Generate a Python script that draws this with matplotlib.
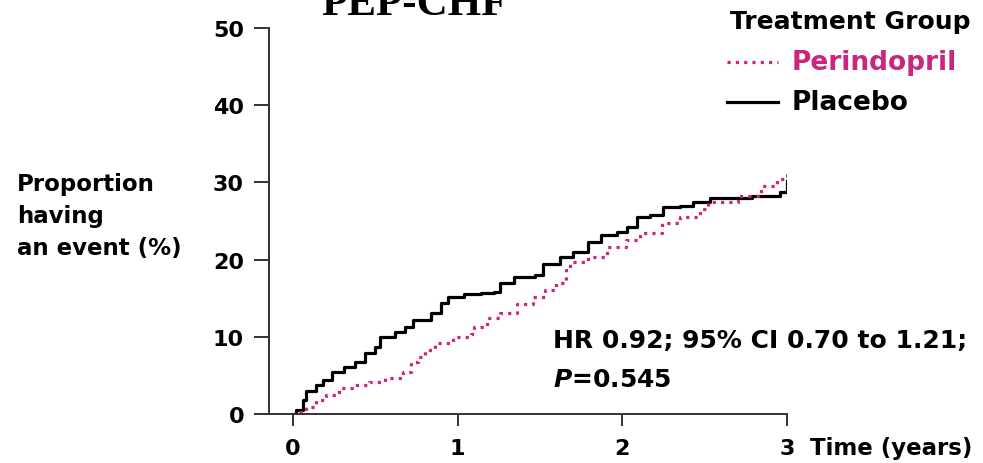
import matplotlib.pyplot as plt

plt.rcParams['font.family'] = ['DejaVu Sans']
plt.rcParams['font.weight'] = 'bold'
plt.rcParams['mathtext.fontset'] = 'custom'
plt.rcParams['mathtext.it'] = 'DejaVu Sans:italic:bold'
plt.rcParams['mathtext.rm'] = 'DejaVu Sans:bold'

# Kaplan-Meier style cumulative event curves
placebo_t = [0, 0.02, 0.06, 0.08, 0.14, 0.18, 0.24, 0.31, 0.38, 0.44, 0.50,
             0.53, 0.62, 0.68, 0.73, 0.84, 0.90, 0.94, 1.04, 1.14, 1.22, 1.26,
             1.34, 1.47, 1.52, 1.62, 1.70, 1.79, 1.87, 1.97, 2.03, 2.09, 2.17,
             2.25, 2.35, 2.43, 2.53, 2.67, 2.79, 2.96, 3.0]
placebo_v = [0, 0.5, 1.8, 3.0, 3.8, 4.4, 5.5, 6.1, 6.8, 7.9, 8.7,
             10.0, 10.6, 11.3, 12.2, 13.1, 14.4, 15.1, 15.5, 15.7, 15.8, 17.0,
             17.7, 18.0, 19.4, 20.3, 21.0, 22.3, 23.2, 23.6, 24.2, 25.5, 25.8,
             26.8, 26.9, 27.5, 28.0, 28.0, 28.2, 28.8, 30.2]

perin_t = [0, 0.02, 0.08, 0.14, 0.20, 0.28, 0.36, 0.46, 0.56, 0.67, 0.72,
           0.76, 0.80, 0.86, 0.97, 1.08, 1.10, 1.18, 1.26, 1.36, 1.46, 1.53,
           1.60, 1.66, 1.68, 1.79, 1.91, 2.02, 2.11, 2.24, 2.35, 2.47, 2.52,
           2.64, 2.70, 2.84, 2.94, 3.0]
perin_v = [0, 0.3, 0.9, 1.8, 2.5, 3.4, 3.8, 4.2, 4.6, 5.5, 6.8,
           7.4, 8.3, 9.2, 10.0, 10.3, 11.3, 12.5, 13.1, 14.2, 15.2, 16.1,
           17.0, 18.7, 19.7, 20.4, 21.6, 22.6, 23.5, 24.8, 25.5, 26.5, 27.5,
           27.5, 28.2, 29.5, 30.4, 31.4]

x_ticks = [0, 1, 2, 3]
y_ticks = [0, 10, 20, 30, 40, 50]

magenta = '#c8267f'

fig = plt.figure(figsize=(9.83, 4.64), dpi=100)
ax = fig.add_axes([269 / 983, 1 - 415 / 464, (787 - 269) / 983, (415 - 29) / 464])

ax.step(placebo_t, placebo_v, where='post', color='black', lw=2.3)
ax.step(perin_t, perin_v, where='post', color=magenta, lw=2.3,
        linestyle=(0, (1, 1.6)))

ax.set_xlim(-0.145, 3.0)
ax.set_ylim(0, 50)
ax.set_xticks(x_ticks)
ax.set_yticks(y_ticks)
for s in ['top', 'right']:
    ax.spines[s].set_visible(False)
for s in ['left', 'bottom']:
    ax.spines[s].set_linewidth(1.4)
    ax.spines[s].set_color('#333333')
ax.tick_params(direction='out', width=1.4, color='#333333', labelsize=16)
ax.tick_params(axis='y', length=11, pad=7)
ax.tick_params(axis='x', length=8.6, pad=9)

fig.text(810 / 983, 1 - 449 / 464, 'Time (years)', fontsize=16.5,
         ha='left', va='center')

fig.text(17 / 983, 1 - 217 / 464, 'Proportion\nhaving\nan event (%)',
         fontsize=16.5, ha='left', va='center', linespacing=1.5)

fig.text(553 / 983, 1 - 341 / 464, 'HR 0.92; 95% CI 0.70 to 1.21;',
         fontsize=18, ha='left', va='center')
fig.text(553 / 983, 1 - 380 / 464, '$P$=0.545',
         fontsize=18, ha='left', va='center')

# legend drawn by hand to match the layout
fig.text(730 / 983, 1 - 22 / 464, 'Treatment Group', fontsize=18,
         ha='left', va='center')
fig.lines.append(plt.Line2D([727 / 983, 778 / 983], [1 - 63 / 464] * 2,
                            transform=fig.transFigure, color=magenta, lw=2.3,
                            linestyle=(0, (1, 1.6))))
fig.text(792 / 983, 1 - 63 / 464, 'Perindopril', fontsize=19, color=magenta,
         ha='left', va='center')
fig.lines.append(plt.Line2D([727 / 983, 778 / 983], [1 - 103 / 464] * 2,
                            transform=fig.transFigure, color='black', lw=2.3))
fig.text(792 / 983, 1 - 103 / 464, 'Placebo', fontsize=19,
         ha='left', va='center')

# title sits partly above the top edge, as in the source image
fig.text(414 / 983, 1 - 15 / 464, 'PEP-CHF', fontsize=31,
         family='Liberation Serif', weight='bold', ha='center', va='baseline')

fig.savefig('out.png', dpi=100)
